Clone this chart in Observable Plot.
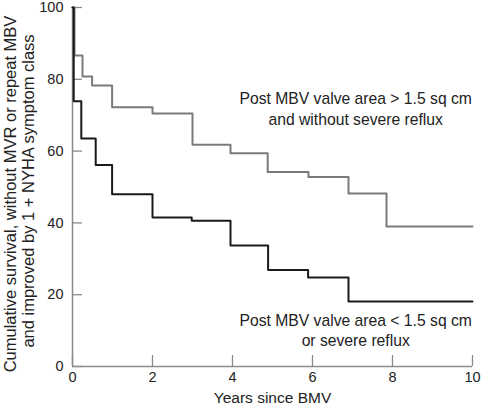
<!DOCTYPE html>
<html>
<head>
<meta charset="utf-8">
<script src="https://cdn.jsdelivr.net/npm/d3@7"></script>
<script src="https://cdn.jsdelivr.net/npm/@observablehq/plot@0.6"></script>
<style>
  html, body { margin: 0; padding: 0; background: #fff; }
  #chart svg { display: block; }
</style>
</head>
<body>
<div id="chart"></div>
<script>
// Upper curve: valve area > 1.5 sq cm and without severe reflux
const goodYears  = [0, 0.05, 0.25, 0.49, 0.99, 2.0, 3.0, 3.95, 4.88, 5.9, 6.9, 7.85, 10];
const goodSurv   = [100, 86.6, 80.8, 78.3, 72.2, 70.5, 61.8, 59.4, 54.2, 52.8, 48.2, 39.0, 39.0];
// Lower curve: valve area < 1.5 sq cm or severe reflux
const poorYears  = [0, 0.03, 0.22, 0.58, 0.99, 2.0, 2.98, 3.95, 4.89, 5.89, 6.9, 10];
const poorSurv   = [100, 73.9, 63.5, 56.1, 48.0, 41.5, 40.6, 33.7, 26.9, 24.8, 18.1, 18.1];

const xTicks = [0, 2, 4, 6, 8, 10];
const yTicks = [0, 20, 40, 60, 80, 100];

const labelLines = [
  "Post MBV valve area > 1.5 sq cm",
  "and without severe reflux",
  "Post MBV valve area < 1.5 sq cm",
  "or severe reflux"
];
const labelX = [7.08, 7.08, 7.08, 7.08];
const labelY = [74.4, 68.8, 12.8, 7.2];

const yTitle1 = "Cumulative survival, without MVR or repeat MBV";
const yTitle2 = "and improved by 1 + NYHA symptom class";
const xTitle = "Years since BMV";

const good = goodYears.map((t, i) => ({t, s: goodSurv[i]}));
const poor = poorYears.map((t, i) => ({t, s: poorSurv[i]}));
const labels = labelLines.map((text, i) => ({text, x: labelX[i], y: labelY[i]}));

const axisColor = "#8a8a8a";
const font = "'Liberation Sans', Arial, sans-serif";

const chart = Plot.plot({
  width: 488,
  height: 406,
  marginLeft: 72,
  marginRight: 16,
  marginTop: 7,
  marginBottom: 40,
  style: {fontFamily: font, fontSize: "15px", color: "#222", background: "#fff", overflow: "visible"},
  x: {domain: [0, 10]},
  y: {domain: [0, 100]},
  marks: [
    Plot.ruleX([0], {stroke: axisColor, strokeWidth: 1.5}),
    Plot.ruleY([0], {stroke: axisColor, strokeWidth: 1.5}),
    Plot.axisX({ticks: xTicks, tickSize: -11, stroke: axisColor, strokeWidth: 1.3, fill: "none", label: null}),
    Plot.axisY({ticks: yTicks, tickSize: -10, stroke: axisColor, strokeWidth: 1.3, fill: "none", label: null}),
    Plot.axisX({ticks: xTicks, tickSize: 0, tickPadding: 5, fontSize: 14.5, fill: "#222", label: null}),
    Plot.axisY({ticks: yTicks, tickSize: 0, tickPadding: 9, fontSize: 14.5, fill: "#222", label: null}),
    Plot.text([xTitle], {text: d => d, frameAnchor: "bottom", dy: 36, fontSize: 15.5, fill: "#222"}),
    Plot.text([yTitle1], {text: d => d, frameAnchor: "left", rotate: -90, textAnchor: "middle",
      dx: -62, dy: 7, fontSize: 16.5, fill: "#222"}),
    Plot.text([yTitle2], {text: d => d, frameAnchor: "left", rotate: -90, textAnchor: "middle",
      dx: -44, dy: 4, fontSize: 16.5, fill: "#222"}),
    Plot.line(good, {x: "t", y: "s", curve: "step-after", stroke: "#7a7a7a", strokeWidth: 2}),
    Plot.line(poor, {x: "t", y: "s", curve: "step-after", stroke: "#1a1a1a", strokeWidth: 2}),
    Plot.text(labels, {x: "x", y: "y", text: "text", fontSize: 15.7, fill: "#222"})
  ]
});
document.getElementById("chart").appendChild(chart);
</script>
</body>
</html>
